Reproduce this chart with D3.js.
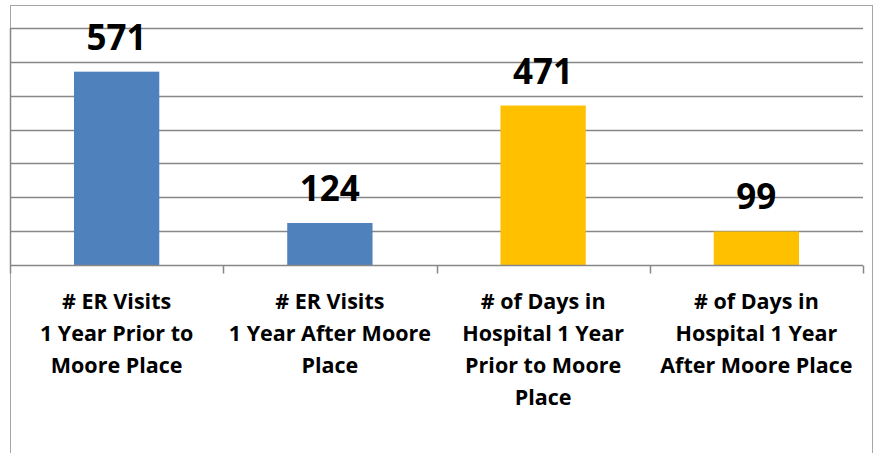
<!DOCTYPE html>
<html>
<head>
<meta charset="utf-8">
<script src="https://cdn.jsdelivr.net/npm/d3@7"></script>
<style>
  body { margin: 0; background: #fff; }
  svg text { font-family: "Open Sans", "Liberation Sans", sans-serif; font-weight: 700; fill: #000; }
</style>
</head>
<body>
<div id="chart"></div>
<script>
// chart data
var categories = ['ER Prior', 'ER After', 'Days Prior', 'Days After'];
var categoryLines = [
  ['# ER Visits', '1 Year Prior to', 'Moore Place'],
  ['# ER Visits', '1 Year After Moore', 'Place'],
  ['# of Days in', 'Hospital 1 Year', 'Prior to Moore', 'Place'],
  ['# of Days in', 'Hospital 1 Year', 'After Moore Place']
];
var values = [571, 124, 471, 99];
var barColors = ['#4F81BD', '#4F81BD', '#FFC000', '#FFC000'];
var yTicks = [0, 100, 200, 300, 400, 500, 600, 700];

var width = 877;
var height = 453;
var margin = {top: 28, right: 14, bottom: 188, left: 10};

var svg = d3.select('#chart').append('svg')
  .attr('width', width)
  .attr('height', height);

// outer frame
svg.append('rect')
  .attr('x', 10.5).attr('y', 5.5)
  .attr('width', 862).attr('height', 460)
  .attr('fill', 'none')
  .attr('stroke', '#a6a6a6');

var x = d3.scaleBand()
  .domain(categories)
  .range([margin.left, width - margin.right])
  .paddingInner(0.6)
  .paddingOuter(0.3);

var y = d3.scaleLinear()
  .domain([0, 700])
  .range([height - margin.bottom, margin.top]);

// gridlines
svg.append('g')
  .selectAll('line')
  .data(yTicks.slice(1))
  .enter().append('line')
  .attr('x1', margin.left)
  .attr('x2', width - margin.right)
  .attr('y1', function(d) { return Math.round(y(d)) + 0.5; })
  .attr('y2', function(d) { return Math.round(y(d)) + 0.5; })
  .attr('stroke', '#878787')
  .attr('stroke-width', 1.5);

// bars
svg.append('g')
  .selectAll('rect')
  .data(values)
  .enter().append('rect')
  .attr('x', function(d, i) { return x(categories[i]); })
  .attr('y', function(d) { return y(d); })
  .attr('width', x.bandwidth())
  .attr('height', function(d) { return y(0) - y(d); })
  .attr('fill', function(d, i) { return barColors[i]; });

// x axis with category separators
var step = (width - margin.right - margin.left) / categories.length;
var axisY = Math.round(y(0)) + 0.5;
var xAxis = svg.append('g');
xAxis.append('line')
  .attr('x1', margin.left).attr('x2', width - margin.right)
  .attr('y1', axisY).attr('y2', axisY)
  .attr('stroke', '#878787').attr('stroke-width', 1.5);
xAxis.selectAll('line.sep')
  .data(d3.range(categories.length + 1))
  .enter().append('line')
  .attr('class', 'sep')
  .attr('x1', function(i) { return Math.round(margin.left + i * step) + 0.5; })
  .attr('x2', function(i) { return Math.round(margin.left + i * step) + 0.5; })
  .attr('y1', axisY).attr('y2', axisY + 8)
  .attr('stroke', '#878787').attr('stroke-width', 1.5);

// y axis line
svg.append('line')
  .attr('x1', margin.left + 0.5).attr('x2', margin.left + 0.5)
  .attr('y1', y(700)).attr('y2', axisY)
  .attr('stroke', '#878787').attr('stroke-width', 1.5);

// value labels
svg.append('g')
  .selectAll('text')
  .data(values)
  .enter().append('text')
  .attr('x', function(d, i) { return x(categories[i]) + x.bandwidth() / 2; })
  .attr('y', function(d) { return y(d) - 22; })
  .attr('text-anchor', 'middle')
  .style('font-size', '35px')
  .text(function(d) { return d; });

// category labels
var labels = svg.append('g')
  .selectAll('text')
  .data(categoryLines)
  .enter().append('text')
  .attr('text-anchor', 'middle')
  .attr('x', function(d, i) { return x(categories[i]) + x.bandwidth() / 2; })
  .attr('y', axisY + 43)
  .style('font-size', '21.5px');

labels.selectAll('tspan')
  .data(function(d) { return d; })
  .enter().append('tspan')
  .attr('x', function() { return d3.select(this.parentNode).attr('x'); })
  .attr('dy', function(d, i) { return i === 0 ? 0 : 32; })
  .text(function(d) { return d; });
</script>
</body>
</html>
